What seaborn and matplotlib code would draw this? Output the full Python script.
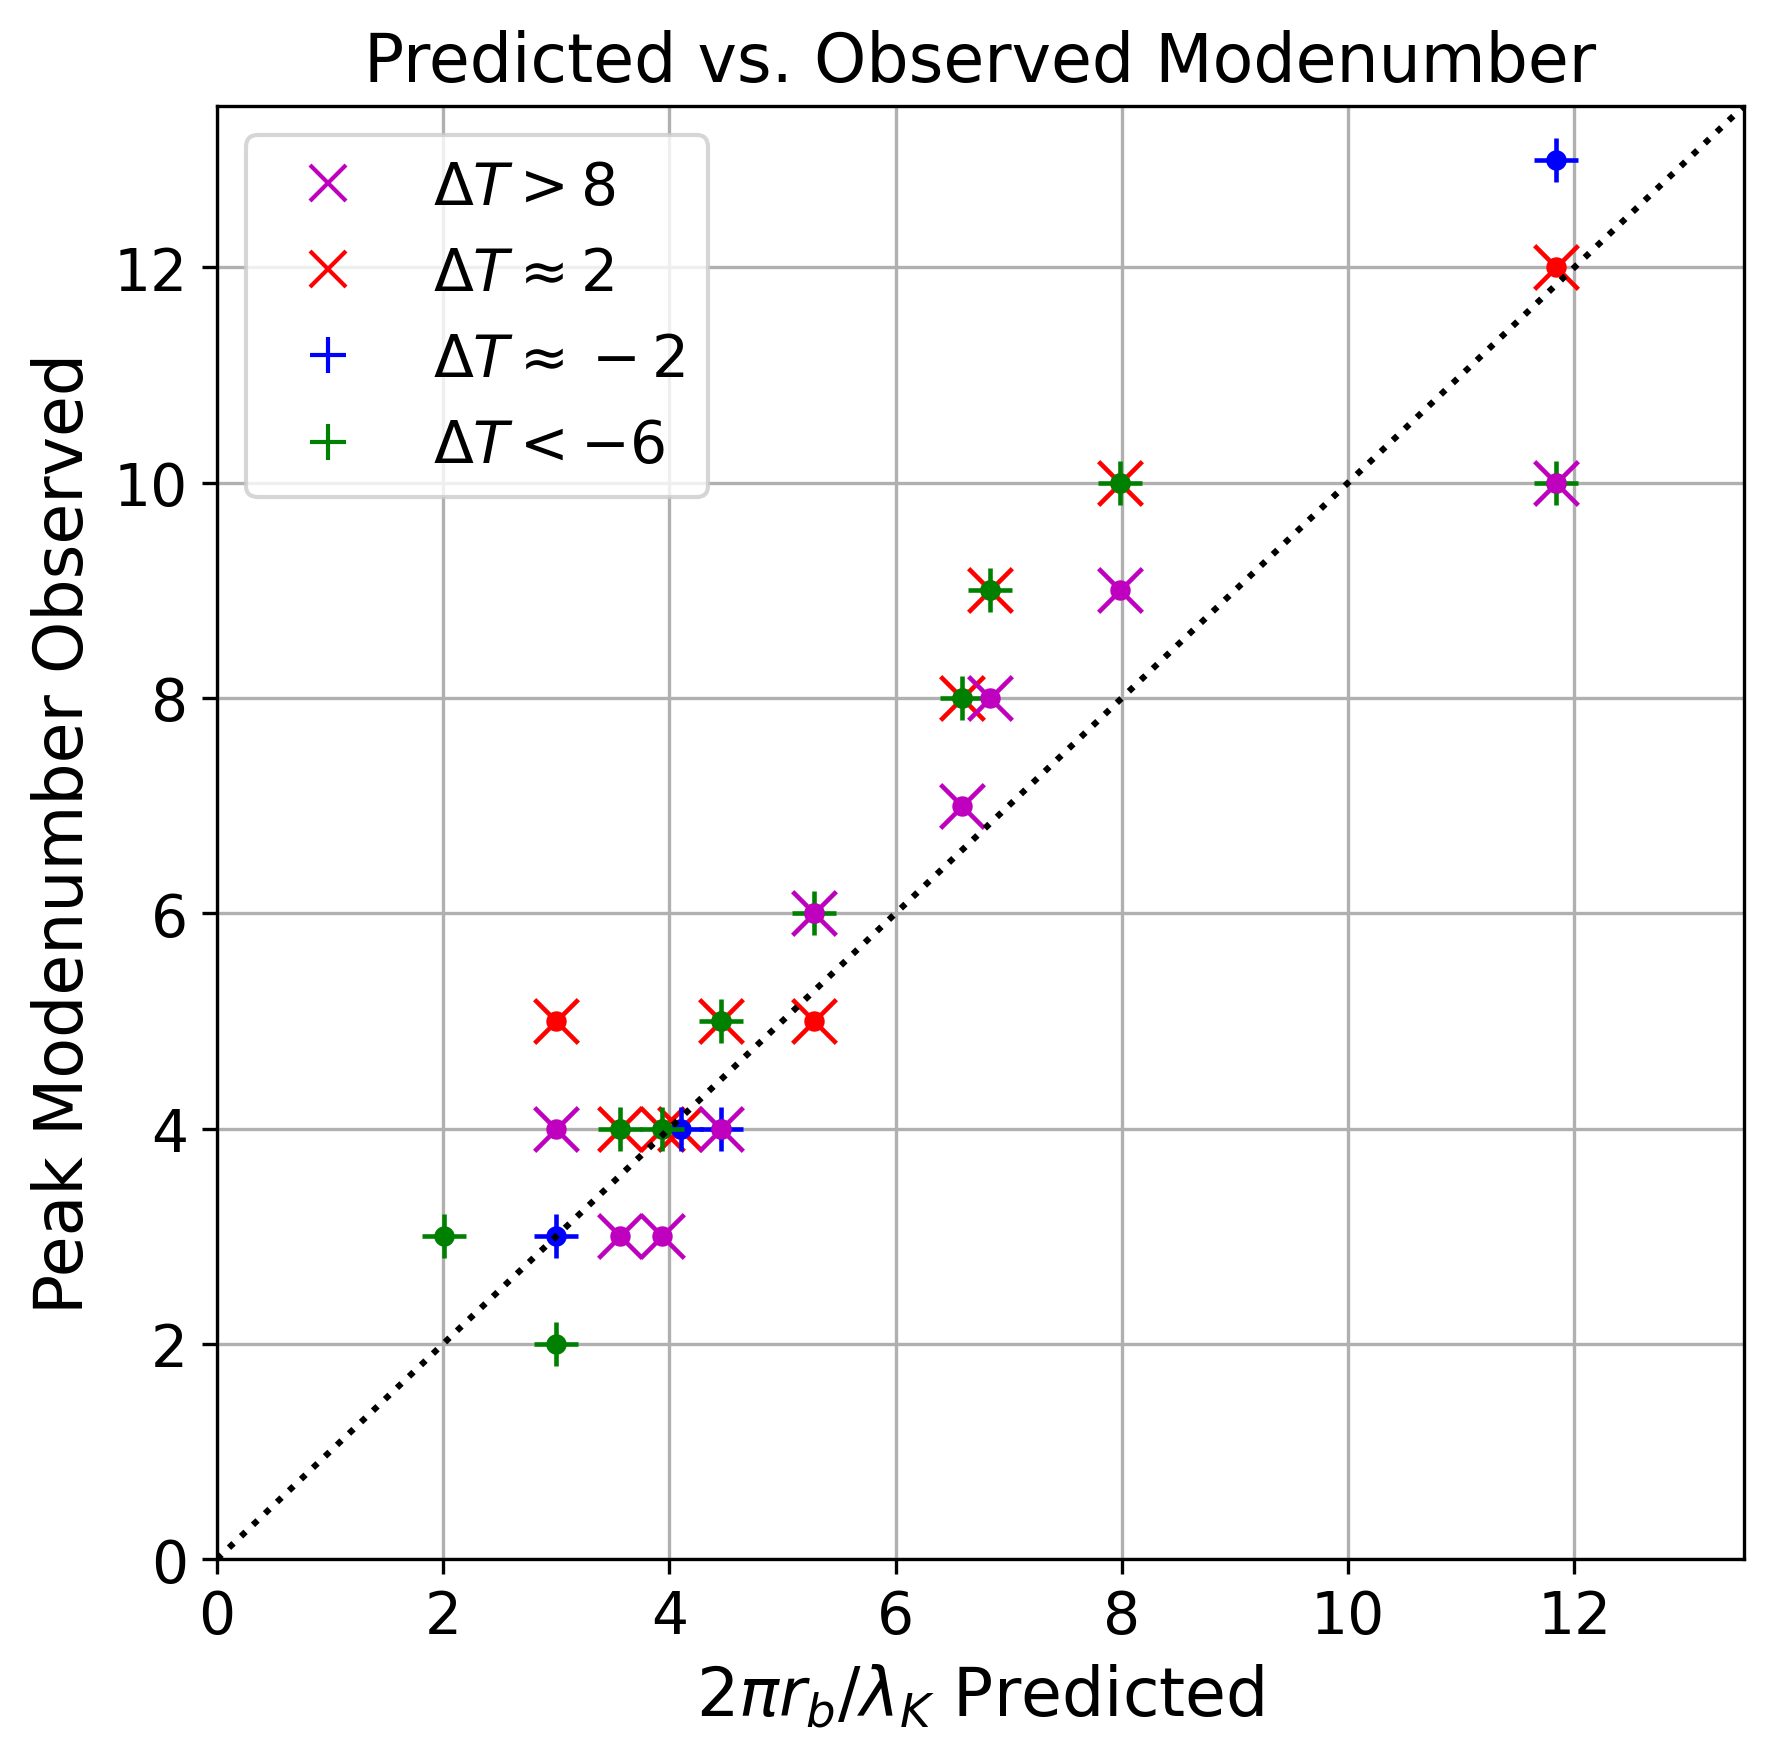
import matplotlib
matplotlib.use('Agg')
import matplotlib.pyplot as plt
from matplotlib.lines import Line2D
import seaborn as sns
import pandas as pd

# predicted (2 pi r_b / lambda_K) and observed peak modenumber, per temperature group
hot_x = [3.0, 3.56, 3.93, 4.46, 5.28, 6.59, 6.83, 7.98, 11.84]
hot_y = [4, 3, 3, 4, 6, 7, 8, 9, 10]

warm_x = [3.0, 3.56, 3.93, 4.09, 4.46, 5.28, 6.59, 6.83, 7.98, 11.84]
warm_y = [5, 4, 4, 4, 5, 5, 8, 9, 10, 12]

cool_x = [3.0, 4.1, 4.46, 11.84]
cool_y = [3, 4, 4, 13]

cold_x = [2.01, 3.0, 3.56, 3.93, 4.46, 5.28, 6.59, 6.83, 7.98, 11.84]
cold_y = [3, 2, 4, 4, 5, 6, 8, 9, 10, 10]

labels = [r'$\Delta T > 8$', r'$\Delta T \approx 2$',
          r'$\Delta T \approx -2$', r'$\Delta T < -6$']
colors = ['m', 'r', 'b', 'g']
markers = ['x', 'x', '+', '+']

LIM = 13.5

fig, ax = plt.subplots(figsize=(1773 / 300, 1760 / 300), dpi=300)
fig.subplots_adjust(left=0.1224, right=0.9836, bottom=0.1136, top=0.9392)

groups = {
    'hot': (hot_x, hot_y, 0),
    'warm': (warm_x, warm_y, 1),
    'cool': (cool_x, cool_y, 2),
    'cold': (cold_x, cold_y, 3),
}

# draw order so overlapping points stack like the original
for name in ['warm', 'cool', 'cold', 'hot']:
    xs, ys, i = groups[name]
    df = pd.DataFrame({'x': xs, 'y': ys})
    sns.scatterplot(data=df, x='x', y='y', marker='o', s=24, color=colors[i],
                    edgecolor=colors[i], linewidth=0, ax=ax, legend=False)
    sns.scatterplot(data=df, x='x', y='y', marker=markers[i], s=110,
                    color=colors[i], linewidth=1.1, ax=ax, legend=False)

diag = pd.DataFrame({'x': [0, LIM], 'y': [0, LIM]})
sns.lineplot(data=diag, x='x', y='y', color='k', linestyle=':', linewidth=1.5, ax=ax)

ax.set_xlim(0, LIM)
ax.set_ylim(0, LIM)
ax.set_xticks(range(0, 13, 2))
ax.set_yticks(range(0, 13, 2))
ax.tick_params(labelsize=14)
ax.grid(True)
ax.set_axisbelow(True)

ax.set_xlabel(r'$2\pi r_b/\lambda_K$ Predicted', fontsize=16)
ax.set_ylabel('Peak Modenumber Observed', fontsize=16)
ax.set_title('Predicted vs. Observed Modenumber', fontsize=16)

handles = [Line2D([], [], linestyle='', marker=markers[i], color=colors[i],
                  markersize=8.5, markeredgewidth=1.0) for i in range(4)]
ax.legend(handles, labels, loc='upper left', fontsize=14)

plt.savefig('out.png', dpi=300)
